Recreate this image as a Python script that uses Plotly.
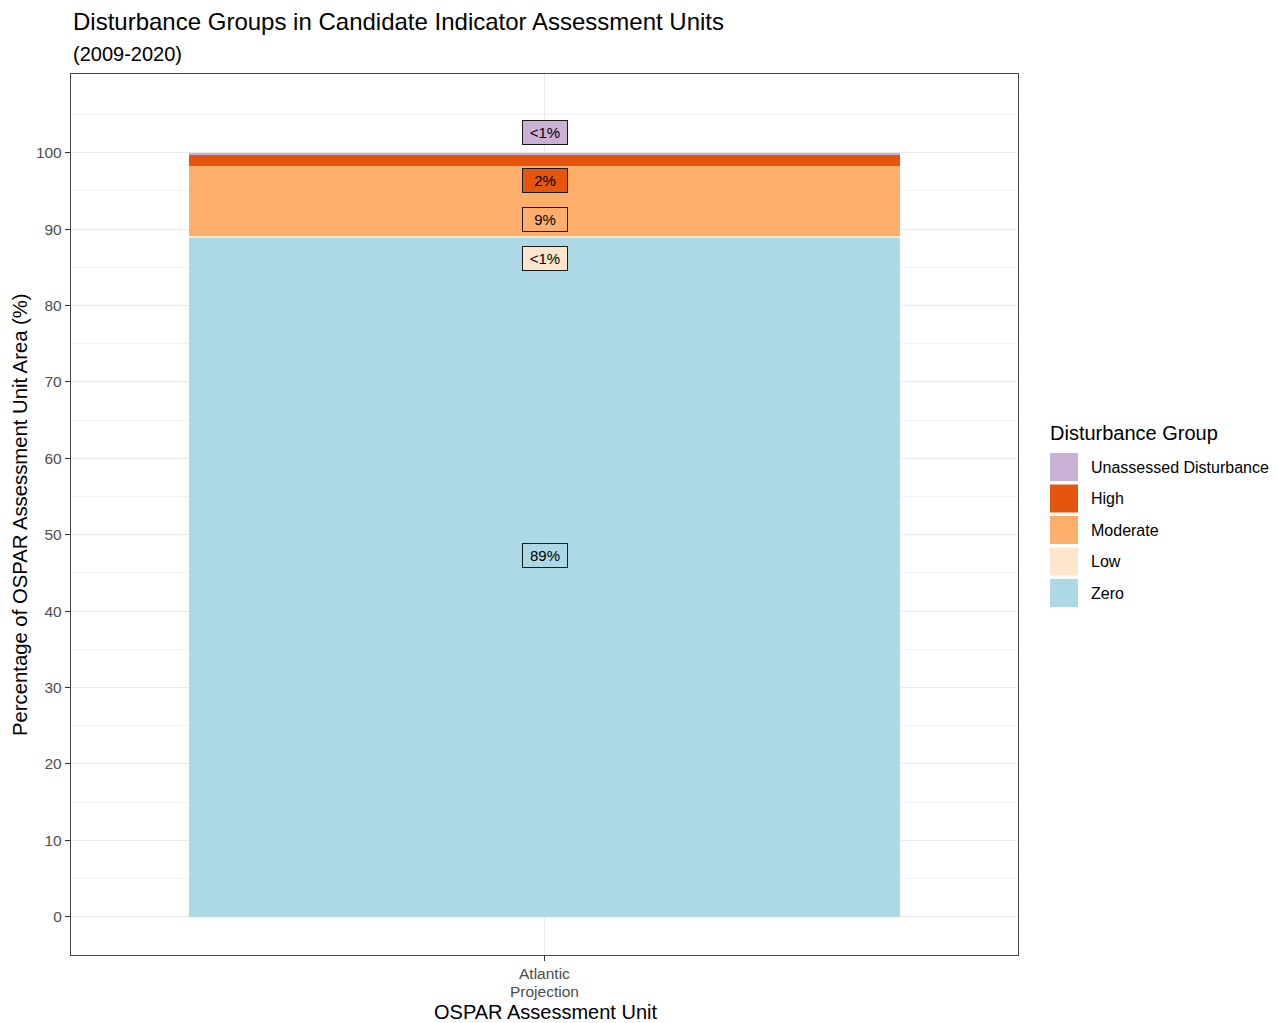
import plotly.graph_objects as go

# Data: share of the assessment unit area in each disturbance group (%)
unit = ["Atlantic<br>Projection"]
groups = ["Zero", "Low", "Moderate", "High", "Unassessed Disturbance"]
shares = [88.9, 0.2, 9.2, 1.5, 0.2]
colors = ["#ADD8E6", "#FEE6CE", "#FDAE6B", "#E6550D", "#C9B1D5"]

# Repelled label heights (axis units), one per group
label_y = [47.25, 86.1, 91.2, 96.3, 102.7]

FONT = "Liberation Sans, Arial, sans-serif"

fig = go.Figure()
for name, val, col in zip(groups, shares, colors):
    fig.add_trace(go.Bar(
        x=unit, y=[val], name=name, marker=dict(color=col, line=dict(width=0)),
        width=0.9, showlegend=False, hoverinfo="name+y",
    ))

# Percentage labels in boxes filled with the group colour
def pct_text(v):
    return "<1%" if v < 1 else f"{round(v):d}%"

annotations = []
for val, col, ly in zip(shares, colors, label_y):
    annotations.append(dict(
        x=unit[0], y=ly, xref="x", yref="y", text=pct_text(val), showarrow=False,
        font=dict(family=FONT, size=15, color="#000000"),
        bgcolor=col, bordercolor="#1a1a1a", borderwidth=1, borderpad=1,
        width=42, height=21, align="center",
    ))

# Plot area geometry in pixels, used for paper-coordinate placement
W, H = 1277, 1023
L, R, T, B = 71, 1018, 74, 955
def px(xp):
    return (xp - L) / (R - L)
def py(yp):
    return (B - yp) / (B - T)

# Category tick label, one line per annotation for tighter line spacing
for j, line in enumerate(unit[0].split("<br>")):
    annotations.append(dict(
        x=unit[0], y=py(973 + 18 * j), xref="x", yref="paper", xanchor="center", yanchor="middle",
        text=line, showarrow=False, font=dict(family=FONT, size=15.5, color="#4D4D4D")))

# Titles
annotations += [
    dict(x=px(71), y=py(22), xref="paper", yref="paper", xanchor="left", yanchor="middle",
         text="Disturbance Groups in Candidate Indicator Assessment Units", showarrow=False,
         font=dict(family=FONT, size=24, color="#000000")),
    dict(x=px(71), y=py(54), xref="paper", yref="paper", xanchor="left", yanchor="middle",
         text="(2009-2020)", showarrow=False, font=dict(family=FONT, size=20, color="#000000")),
    dict(x=px(545), y=py(1012), xref="paper", yref="paper", xanchor="center", yanchor="middle",
         text="OSPAR Assessment Unit", showarrow=False, font=dict(family=FONT, size=20, color="#000000")),
    dict(x=px(20), y=py(515), xref="paper", yref="paper", xanchor="center", yanchor="middle",
         text="Percentage of OSPAR Assessment Unit Area (%)", textangle=-90, showarrow=False,
         font=dict(family=FONT, size=20.3, color="#000000")),
    dict(x=px(1048), y=py(433), xref="paper", yref="paper", xanchor="left", yanchor="middle",
         text="Disturbance Group", showarrow=False, font=dict(family=FONT, size=20, color="#000000")),
]

# Legend: top entry is the top of the stack
shapes = []
row0, step, sw = 467, 31.5, 28
for i, (name, col) in enumerate(zip(groups[::-1], colors[::-1])):
    cy = row0 + i * step
    shapes.append(dict(type="rect", xref="paper", yref="paper",
                       x0=px(1050), x1=px(1050 + sw), y0=py(cy + sw / 2), y1=py(cy - sw / 2),
                       fillcolor=col, line=dict(width=0), layer="above"))
    annotations.append(dict(x=px(1089), y=py(cy), xref="paper", yref="paper",
                            xanchor="left", yanchor="middle", text=name, showarrow=False,
                            font=dict(family=FONT, size=16, color="#000000")))

fig.update_layout(
    barmode="stack",
    width=W, height=H,
    margin=dict(l=L, r=W - R, t=T, b=H - B, pad=0),
    paper_bgcolor="white", plot_bgcolor="white",
    font=dict(family=FONT),
    bargap=0,
    annotations=annotations,
    shapes=shapes,
    showlegend=False,
    xaxis=dict(
        type="category", range=[-0.6, 0.6],
        showgrid=True, gridcolor="#EBEBEB", gridwidth=1.4,
        showline=True, mirror=True, linecolor="#444444", linewidth=1.3,
        ticks="outside", ticklen=5, tickcolor="#333333", tickwidth=1.2,
        showticklabels=False,
        zeroline=False,
    ),
    yaxis=dict(
        range=[-5, 110.3], tick0=0, dtick=10,
        showgrid=True, gridcolor="#EBEBEB", gridwidth=1.4,
        minor=dict(tick0=5, dtick=10, showgrid=True, gridcolor="#F2F2F2", gridwidth=1),
        showline=True, mirror=True, linecolor="#444444", linewidth=1.3,
        ticks="outside", ticklen=5, tickcolor="#333333", tickwidth=1.2,
        tickfont=dict(family=FONT, size=15.5, color="#4D4D4D"),
        tickvals=list(range(0, 101, 10)),
        zeroline=False,
    ),
)

fig.write_html("out.html")
